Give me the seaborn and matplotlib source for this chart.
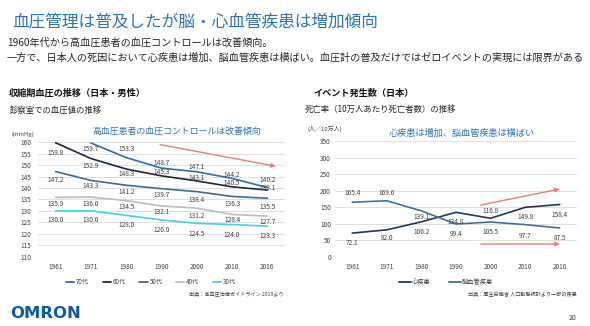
import numpy as np
import pandas as pd
import matplotlib
matplotlib.use("Agg")
import matplotlib.pyplot as plt
from matplotlib.lines import Line2D
import seaborn as sns

sns.set_theme(style="white")
plt.rcParams['font.family'] = ['Noto Sans CJK JP', 'DejaVu Sans']

# ---------------- data ----------------
years = ["1961", "1971", "1980", "1990", "2000", "2010", "2016"]

bp_groups = ["70代", "60代", "50代", "40代", "30代"]
bp_70s = [np.nan, 159.7, 153.3, 148.7, 147.1, 144.2, 140.2]
bp_60s = [159.8, 152.9, 148.3, 145.3, 143.1, 140.5, 139.1]
bp_50s = [147.2, 143.3, 141.2, 139.7, 138.4, 136.3, 135.5]
bp_40s = [135.9, 136.0, 134.5, 132.1, 131.2, 128.4, 127.7]
bp_30s = [130.0, 130.0, 128.0, 126.0, 124.5, 124.0, 123.3]

ev_groups = ["心疾患", "脳血管疾患"]
heart = [72.1, 82.0, 106.2, 134.8, 116.8, 149.8, 158.4]
stroke = [165.4, 169.6, 139.1, 99.4, 105.5, 97.7, 87.5]

left_ticks = [110, 115, 120, 125, 130, 135, 140, 145, 150, 155, 160]
right_ticks = [0, 50, 100, 150, 200, 250, 300, 350]

# ---------------- styles ----------------
bp_colors = {"70代": "#2F6CAD", "60代": "#1B2842", "50代": "#3F6A8F",
             "40代": "#BDBDBD", "30代": "#3FD3E6"}
ev_colors = {"心疾患": "#1E3858", "脳血管疾患": "#3F7298"}
# label offsets in pixels (positive = below point)
bp_offsets = {"70代": [0, 6, -9, -5, -5, -3, -7.5],
              "60代": [10, 7, 5, -4, -3, -4, -2],
              "50代": [8, 6, 6.5, 6, 8, 8, 8.5],
              "40代": [7, 7, 6, 6, 8, 6, 6],
              "30代": [9, 9, 10, 10, 11, 10, 10]}
ev_offsets = {"心疾患": [10, 8, 10, 10, -7, 10, 10],
              "脳血管疾患": [-9, -7.5, 6, 10, 10, 11, 10]}

W, H = 590, 326
fig = plt.figure(figsize=(W / 100, H / 100), dpi=100)

def fx(px):
    return px / W

def fy(py):
    return 1 - py / H

TXT = "#262626"
BLUE = "#2E75B6"
ARROW = "#F07A7A"

# ---------------- header ----------------
fig.text(fx(12), fy(22), "血圧管理は普及したが脳・心血管疾患は増加傾向",
         fontsize=12, color=BLUE, va="center", ha="left")
fig.text(fx(7), fy(43), "1960年代から高血圧患者の血圧コントロールは改善傾向。",
         fontsize=7.3, color=TXT, va="center", ha="left")
fig.text(fx(7), fy(58), "一方で、日本人の死因において心疾患は増加、脳血管疾患は横ばい。血圧計の普及だけではゼロイベントの実現には限界がある",
         fontsize=7.3, color=TXT, va="center", ha="left")

fig.text(fx(9), fy(93), "収縮期血圧の推移（日本・男性）", fontsize=6.6,
         fontweight="bold", color="#111111", va="center", ha="left")
fig.text(fx(10), fy(110), "診察室での血圧値の推移", fontsize=6.0,
         color=TXT, va="center", ha="left")
fig.text(fx(12), fy(134), "(mmHg)", fontsize=4.3, color="#404040",
         va="center", ha="left")

fig.text(fx(313), fy(93), "イベント発生数（日本）", fontsize=6.6,
         fontweight="bold", color="#111111", va="center", ha="left")
fig.text(fx(305), fy(109), "死亡率（10万人あたり死亡者数）の推移", fontsize=6.0,
         color=TXT, va="center", ha="left")
fig.text(fx(307), fy(129), "(人／10万人)", fontsize=4.3, color="#404040",
         va="center", ha="left")

# ---------------- left chart ----------------
pos = {y: i for i, y in enumerate(years)}
bp_values = [bp_70s, bp_60s, bp_50s, bp_40s, bp_30s]
bp_df = pd.DataFrame([(y, g, v) for g, vals in zip(bp_groups, bp_values)
                      for y, v in zip(years, vals)],
                     columns=["year", "group", "value"])
bp_df["x"] = bp_df["year"].map(pos)
bp_df = bp_df.dropna()

axL = fig.add_axes([fx(38), fy(256.5), fx(285) - fx(38), (256.5 - 142.3) / H])
sns.lineplot(data=bp_df, x="x", y="value", hue="group", hue_order=bp_groups,
             palette=bp_colors, linewidth=1.2, ax=axL, legend=False)
axL.set_xlim(-0.5, len(years) - 0.5)
axL.set_ylim(110, 160)
axL.set_yticks(left_ticks)
axL.set_xticks(range(len(years)))
axL.set_xticklabels(years)
axL.grid(axis="y", color="#D9D9D9", linewidth=0.6)
axL.set_axisbelow(True)
for s in axL.spines.values():
    s.set_visible(False)
axL.tick_params(axis="y", labelsize=4.6, pad=5, length=0, colors="#404040")
axL.tick_params(axis="x", labelsize=4.6, pad=4.5, length=0, colors="#404040")
axL.set_xlabel("")
axL.set_ylabel("")

for g, vals in zip(bp_groups, bp_values):
    for i, v in enumerate(vals):
        if np.isnan(v):
            continue
        off = bp_offsets[g][i] * 0.72
        axL.annotate(f"{v:.1f}", (i, v), xytext=(0, -off),
                     textcoords="offset points", ha="center", va="center",
                     fontsize=4.7, color="#404040", annotation_clip=False)

axL.annotate("", xy=(6.24, 149.5), xytext=(2.96, 159.0),
             arrowprops=dict(arrowstyle="-|>", color=ARROW, lw=1.0,
                             mutation_scale=6, shrinkA=0, shrinkB=0),
             annotation_clip=False)
fig.text(fx(177), fy(131), "高血圧患者の血圧コントロールは改善傾向",
         fontsize=6.4, color=BLUE, ha="center", va="center")

handlesL = [Line2D([0], [0], color=bp_colors[g], lw=1.3) for g in bp_groups]
fig.legend(handlesL, bp_groups, loc="center", bbox_to_anchor=(fx(151), fy(282)),
           ncol=5, frameon=False, fontsize=4.5, handlelength=1.3,
           handletextpad=0.3, columnspacing=2.2, labelcolor="#404040",
           borderpad=0, borderaxespad=0)
fig.text(fx(284), fy(294), "出典：高血圧治療ガイドライン 2019より", fontsize=3.7,
         color="#404040", ha="right", va="center")

# ---------------- right chart ----------------
ev_values = [heart, stroke]
ev_df = pd.DataFrame([(y, g, v) for g, vals in zip(ev_groups, ev_values)
                      for y, v in zip(years, vals)],
                     columns=["year", "group", "value"])
ev_df["x"] = ev_df["year"].map(pos)

axR = fig.add_axes([fx(335), fy(257), fx(577) - fx(335), (257 - 141) / H])
sns.lineplot(data=ev_df, x="x", y="value", hue="group", hue_order=ev_groups,
             palette=ev_colors, linewidth=1.2, ax=axR, legend=False)
axR.set_xlim(-0.5, len(years) - 0.5)
axR.set_ylim(0, 350)
axR.set_yticks(right_ticks)
axR.set_xticks(range(len(years)))
axR.set_xticklabels(years)
axR.grid(axis="y", color="#D9D9D9", linewidth=0.6)
axR.set_axisbelow(True)
for s in axR.spines.values():
    s.set_visible(False)
axR.tick_params(axis="y", labelsize=4.6, pad=3, length=0, colors="#404040")
axR.tick_params(axis="x", labelsize=4.6, pad=4.5, length=0, colors="#404040")
axR.set_xlabel("")
axR.set_ylabel("")

for g, vals in zip(ev_groups, ev_values):
    for i, v in enumerate(vals):
        off = ev_offsets[g][i] * 0.72
        axR.annotate(f"{v:.1f}", (i, v), xytext=(0, -off),
                     textcoords="offset points", ha="center", va="center",
                     fontsize=4.7, color="#404040", annotation_clip=False)

axR.annotate("", xy=(6.0, 205), xytext=(3.72, 157),
             arrowprops=dict(arrowstyle="-|>", color=ARROW, lw=1.0,
                             mutation_scale=6, shrinkA=0, shrinkB=0))
axR.annotate("", xy=(6.0, 39), xytext=(3.72, 39),
             arrowprops=dict(arrowstyle="-|>", color=ARROW, lw=1.0,
                             mutation_scale=6, shrinkA=0, shrinkB=0))
fig.text(fx(462), fy(133), "心疾患は増加、脳血管疾患は横ばい",
         fontsize=6.6, color=BLUE, ha="center", va="center")

handlesR = [Line2D([0], [0], color=ev_colors[g], lw=1.3) for g in ev_groups]
fig.legend(handlesR, ev_groups, loc="center", bbox_to_anchor=(fx(446), fy(282)),
           ncol=2, frameon=False, fontsize=4.5, handlelength=1.9,
           handletextpad=0.2, columnspacing=2.9, labelcolor="#404040",
           borderpad=0, borderaxespad=0)
fig.text(fx(577), fy(294), "出典：厚生労働省 人口動態統計より一部の疾患", fontsize=3.7,
         color="#404040", ha="right", va="center")

# ---------------- footer ----------------
fig.text(fx(10), fy(313), "OMRON", fontsize=11.8, fontweight="bold",
         family="DejaVu Sans", color="#0A5BAA", ha="left", va="center")
fig.text(fx(573), fy(318), "20", fontsize=5, color="#404040",
         ha="center", va="center")

fig.savefig("out.png", dpi=100)
